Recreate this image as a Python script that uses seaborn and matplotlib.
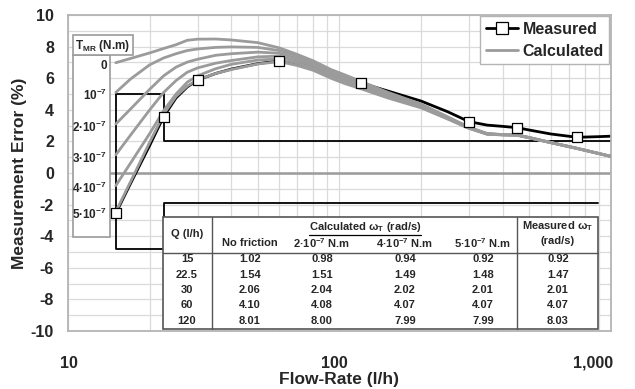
import matplotlib
matplotlib.use("Agg")
import matplotlib.pyplot as plt
import matplotlib.transforms as mtrans
from matplotlib.lines import Line2D
from matplotlib.patches import Rectangle
from matplotlib.ticker import FixedLocator, MultipleLocator, NullFormatter
import numpy as np
import pandas as pd
import seaborn as sns

# ---------------------------------------------------------------- data
# flow rates (l/h) at which the calculated curves are traced
flow_calc = [15, 17, 20, 22.5, 25, 27.5, 30, 35, 40, 50, 60, 70, 80, 93, 105,
             120, 150, 200, 250, 300, 350, 400, 450, 500, 600, 750, 1000]

# calculated measurement error (%) for each friction torque T_MR
calc_t0 = [6.98, 7.25, 7.6, 7.88, 8.12, 8.4, 8.47, 8.48, 8.42, 8.25, 7.92, 7.5, 7.1,
           6.55, 6.2, 5.8, 5.12, 4.36, 3.56, 2.9, 2.5, 2.43, 2.42, 2.25, 1.93, 1.56, 1.05]
calc_t1 = [5.1, 5.95, 6.85, 7.28, 7.55, 7.75, 7.85, 7.95, 7.98, 7.95, 7.75, 7.4, 7.0,
           6.45, 6.1, 5.7, 5.05, 4.31, 3.53, 2.88, 2.49, 2.43, 2.41, 2.24, 1.93, 1.56, 1.05]
calc_t2 = [3.1, 4.05, 5.3, 6.15, 6.7, 7.02, 7.2, 7.45, 7.55, 7.65, 7.58, 7.25, 6.9,
           6.35, 6.0, 5.6, 4.98, 4.26, 3.5, 2.87, 2.48, 2.42, 2.41, 2.24, 1.93, 1.56, 1.05]
calc_t3 = [1.15, 2.4, 4.0, 5.1, 5.85, 6.38, 6.65, 6.95, 7.12, 7.35, 7.4, 7.1, 6.8,
           6.25, 5.9, 5.5, 4.9, 4.21, 3.47, 2.85, 2.47, 2.42, 2.4, 2.23, 1.92, 1.56, 1.05]
calc_t4 = [-0.8, 0.63, 2.5, 3.95, 5.0, 5.75, 6.15, 6.6, 6.88, 7.15, 7.22, 6.95, 6.65,
           6.15, 5.8, 5.42, 4.83, 4.16, 3.44, 2.84, 2.46, 2.41, 2.4, 2.23, 1.92, 1.55, 1.05]
calc_t5 = [-2.45, -0.55, 1.95, 3.72, 4.85, 5.5, 5.9, 6.3, 6.55, 6.9, 7.05, 6.8, 6.5,
           6.0, 5.65, 5.33, 4.76, 4.12, 3.42, 2.82, 2.45, 2.41, 2.39, 2.22, 1.92, 1.55, 1.05]
torque_labels = ["0", "10$^{-7}$", "2·10$^{-7}$", "3·10$^{-7}$", "4·10$^{-7}$", "5·10$^{-7}$"]

# measured error: smoothed trace and the measurement points themselves
flow_meas_line = [15, 17, 20, 22.5, 25, 27.5, 30, 35, 40, 50, 60, 70, 80, 93, 105, 120,
                  150, 200, 250, 300, 350, 400, 450, 500, 600, 750, 900, 1000]
err_meas_line = [-2.55, -0.66, 1.75, 3.57, 4.75, 5.45, 5.88, 6.3, 6.58, 6.92, 7.1, 6.95,
                 6.7, 6.4, 6.05, 5.7, 5.2, 4.55, 3.88, 3.25, 3.03, 2.95, 2.87, 2.72,
                 2.47, 2.26, 2.3, 2.33]
flow_meas = [15, 22.5, 30, 60, 120, 300, 450, 750]
err_meas = [-2.55, 3.57, 5.88, 7.1, 5.7, 3.25, 2.87, 2.26]

# turbine angular speed table
table_q = [15, 22.5, 30, 60, 120]
omega_no_friction = [1.02, 1.54, 2.06, 4.10, 8.01]
omega_2e7 = [0.98, 1.51, 2.04, 4.08, 8.00]
omega_4e7 = [0.94, 1.49, 2.02, 4.07, 7.99]
omega_5e7 = [0.92, 1.48, 2.01, 4.07, 7.99]
omega_measured = [0.92, 1.47, 2.01, 4.07, 8.03]

# callout levels linking the first two measurement points to the table
upper_box = (5.0, 2.0)
lower_box = (-4.8, -1.9)

# ---------------------------------------------------------------- style
sns.set_theme(style="white")
plt.rcParams["font.family"] = ["Liberation Sans", "DejaVu Sans"]
plt.rcParams["mathtext.fontset"] = "custom"
plt.rcParams["mathtext.rm"] = "Liberation Sans"
plt.rcParams["mathtext.bf"] = "Liberation Sans:bold"
plt.rcParams["mathtext.default"] = "regular"
plt.rcParams["axes.unicode_minus"] = False

GRAY = "#9b9b9b"
GRID = "#dadada"
FRAME = "#b4b4b4"

W, H = 635, 389
L, R, T, B = 68, 611, 15, 331
fig, ax = plt.subplots(figsize=(W / 100, H / 100), dpi=100)
fig.subplots_adjust(left=L / W, right=R / W, top=1 - T / H, bottom=1 - B / H)


def af(xp, yp):
    """pixel position -> axes fraction"""
    return (xp - L) / (R - L), (B - yp) / (B - T)


ax.set_xscale("log")
ax.set_xlim(10, 1000)
ax.set_ylim(-10, 10)

# grid
ax.xaxis.set_major_locator(FixedLocator([10, 100, 1000]))
ax.xaxis.set_minor_locator(FixedLocator([v * d for d in (10, 100) for v in range(2, 10)]))
ax.xaxis.set_minor_formatter(NullFormatter())
ax.set_xticklabels(["10", "100", "1,000"])
ax.yaxis.set_major_locator(MultipleLocator(2))
ax.yaxis.set_minor_locator(MultipleLocator(1))
ax.grid(which="both", color=GRID, lw=0.9, zorder=0)
ax.set_axisbelow(True)
for s in ax.spines.values():
    s.set_color(FRAME)
    s.set_linewidth(1.3)
ax.tick_params(axis="both", which="major", length=4, width=1, color=FRAME,
               labelsize=11.5, direction="out")
ax.tick_params(axis="x", which="major", pad=14)
ax.tick_params(axis="y", which="major", pad=6)
ax.tick_params(which="minor", length=0)
for lab in ax.get_xticklabels() + ax.get_yticklabels():
    lab.set_fontweight("bold")
# nudge the decade labels left, as in the spreadsheet layout
for lab, dx in zip(ax.get_xticklabels(), (1, -5, -18)):
    lab.set_transform(lab.get_transform() +
                      mtrans.ScaledTranslation(dx / 100, 0, fig.dpi_scale_trans))

ax.set_xlabel("Flow-Rate (l/h)", fontsize=12.5, fontweight="bold", labelpad=1)
ax.set_ylabel("Measurement Error (%)", fontsize=12.5, fontweight="bold", labelpad=3)

# reference lines
ax.hlines(0, 14.3, 1000, color=GRAY, lw=1.8, zorder=1)
x_tab_right = 10 ** (1 + (598 - L) / (R - L) * 2)
ax.plot([table_q[0], table_q[1], table_q[1], 1000],
        [upper_box[0], upper_box[0], upper_box[1], upper_box[1]],
        color="black", lw=1.3, zorder=1.5)
ax.plot([table_q[0], table_q[0], table_q[1], table_q[1], x_tab_right],
        [upper_box[0], lower_box[0], lower_box[0], lower_box[1], lower_box[1]],
        color="black", lw=1.3, zorder=1.5)

# measured trace (below the calculated bundle)
sns.lineplot(x=flow_meas_line, y=err_meas_line, color="black", lw=2.0,
             sort=False, ax=ax, zorder=2, legend=False)

# calculated bundle
calc_sets = [calc_t0, calc_t1, calc_t2, calc_t3, calc_t4, calc_t5]
calc_df = pd.DataFrame({
    "flow": np.tile(flow_calc, len(calc_sets)),
    "err": np.concatenate(calc_sets),
    "torque": np.repeat(np.arange(len(calc_sets)), len(flow_calc)),
})
sns.lineplot(data=calc_df, x="flow", y="err", units="torque", estimator=None,
             color=GRAY, lw=2.0, sort=False, ax=ax, zorder=3, legend=False)

# measurement points
sns.scatterplot(x=flow_meas, y=err_meas, marker="s", s=62, color="white",
                edgecolor="black", linewidth=0.9, ax=ax, zorder=5, legend=False)

# legend
handles = [
    Line2D([], [], color="black", lw=2.0, marker="s", markersize=8,
           markerfacecolor="white", markeredgecolor="black", markeredgewidth=0.9),
    Line2D([], [], color=GRAY, lw=2.0),
]
leg = ax.legend(handles, ["Measured", "Calculated"], loc="upper right",
                bbox_to_anchor=(0.997, 0.997), borderaxespad=0, frameon=True,
                fancybox=False, edgecolor=FRAME, framealpha=1,
                prop={"weight": "bold", "size": 11.5}, handlelength=2.0,
                handletextpad=0.3, labelspacing=0.45, borderpad=0.35)
leg.get_frame().set_linewidth(1.0)
leg.set_zorder(6)

# T_MR key
tr = ax.transAxes
x0, y0 = af(73, 55)
x1, y1 = af(110, 237)
ax.add_patch(Rectangle((x0, y1), x1 - x0, y0 - y1, transform=tr, facecolor="white",
                       edgecolor=GRAY, lw=1.2, zorder=4))
x0, y0 = af(73, 35)
x1, y1 = af(133, 55)
ax.add_patch(Rectangle((x0, y1), x1 - x0, y0 - y1, transform=tr, facecolor="white",
                       edgecolor=GRAY, lw=1.2, zorder=4))
ax.text(*af(103, 45.5), "T$_{MR}$ (N.m)", transform=tr, ha="center", va="center",
        fontsize=8.5, fontweight="bold", zorder=5)
for lab, vals in zip(torque_labels, calc_sets):
    ax.text(af(107, 0)[0], vals[0] - 0.2, lab, transform=ax.get_yaxis_transform(),
            ha="right", va="center", fontsize=8.5, fontweight="bold", zorder=5)

# omega table
tx0, ty0 = af(163, 217)
tx1, ty1 = af(598, 329)
ax.add_patch(Rectangle((tx0, ty1), tx1 - tx0, ty0 - ty1, transform=tr,
                       facecolor="white", edgecolor="#555555", lw=1.2, zorder=4))
for xp in (212, 517):
    xa, _ = af(xp, 0)
    ax.plot([xa, xa], [ty1, ty0], transform=tr, color="#555555", lw=1.0, zorder=4.5)
_, yh = af(0, 253)
ax.plot([tx0, tx1], [yh, yh], transform=tr, color="#555555", lw=1.0, zorder=4.5)

tkw = dict(transform=tr, ha="center", va="center", fontsize=8,
           fontweight="bold", zorder=5)
ax.text(*af(187, 234), "Q (l/h)", **tkw)
head = ax.text(*af(365, 226.5), "Calculated ω$_T$ (rad/s)", **tkw)
ax.text(*af(558, 226), "Measured ω$_T$", **tkw)
ax.text(*af(558, 241), "(rad/s)", **tkw)
sub_heads = ["No friction", "2·10$^{-7}$ N.m", "4·10$^{-7}$ N.m", "5·10$^{-7}$ N.m"]
col_x = [250, 322, 405, 483]
for xp, txt in zip(col_x, sub_heads):
    ax.text(*af(xp, 243), txt, **tkw)

row_y = [259, 275, 290, 305, 321]
columns = [omega_no_friction, omega_2e7, omega_4e7, omega_5e7]
for i, yp in enumerate(row_y):
    ax.text(*af(187, yp), f"{table_q[i]:g}", **tkw)
    for xp, col in zip(col_x, columns):
        ax.text(*af(xp, yp), f"{col[i]:.2f}", **tkw)
    ax.text(*af(558, yp), f"{omega_measured[i]:.2f}", **tkw)

# underline the calculated-speed heading
fig.canvas.draw()
bb = head.get_window_extent().transformed(tr.inverted())
ax.plot([bb.x0, bb.x1], [bb.y0 - 0.004, bb.y0 - 0.004], transform=tr,
        color="black", lw=0.9, zorder=5)

fig.savefig("out.png", dpi=100)
